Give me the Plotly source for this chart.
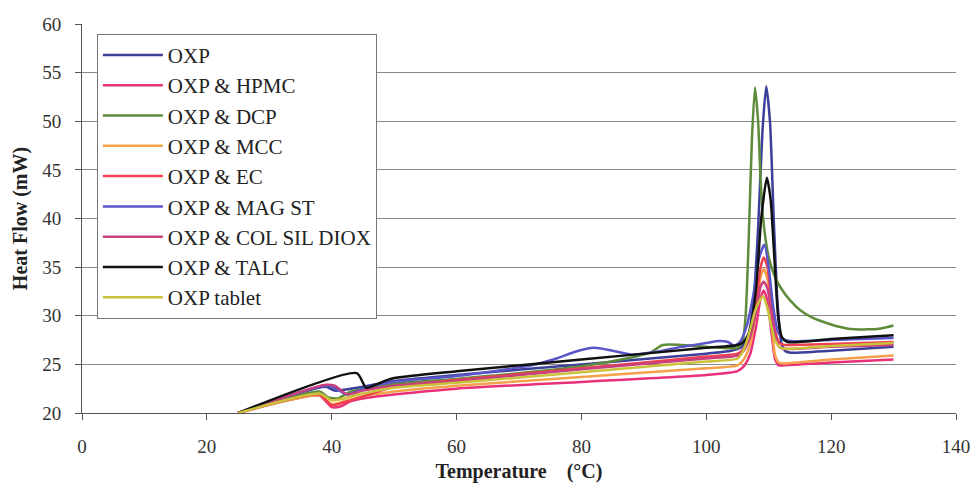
import plotly.graph_objects as go

names = ["OXP", "OXP & HPMC", "OXP & DCP", "OXP & MCC", "OXP & EC",
         "OXP & MAG ST", "OXP & COL SIL DIOX", "OXP & TALC", "OXP tablet"]
colors = ["#3b3f99", "#e8317a", "#5e8c3a", "#f5a04a", "#f0404f",
          "#5a55c8", "#c8407e", "#111111", "#c9c23a"]

oxp_t = [25, 39, 40.5, 42, 45, 50, 60, 80, 100, 104, 105.5, 106.5, 107.5, 108.3, 109, 109.6, 110.2, 110.8, 111.4, 112, 112.6, 113.5, 120, 130]
oxp_h = [20, 22.7, 22.3, 22.4, 22.7, 23.3, 23.9, 25.0, 26.1, 26.4, 26.7, 27.5, 31, 39, 49, 53.6, 50, 40, 31.5, 27.3, 26.4, 26.2, 26.4, 26.8]

hpmc_t = [25, 38, 40, 41.5, 43, 46, 50, 60, 80, 100, 105, 106, 107, 108, 108.7, 109.2, 109.8, 110.4, 111, 111.6, 112.5, 120, 130]
hpmc_h = [20, 21.8, 20.6, 20.7, 21.2, 21.6, 21.9, 22.5, 23.2, 23.9, 24.3, 24.8, 26, 29, 31.8, 32.6, 31.5, 28.5, 25.6, 24.9, 24.9, 25.2, 25.5]

dcp_t = [25, 38, 39.5, 41, 43, 50, 60, 80, 88, 91, 93, 96, 100, 105, 105.8, 106.3, 106.8, 107.3, 107.8, 108.3, 108.7, 109.1, 110, 111, 112, 113.4, 115, 117, 120, 122.5, 125.7, 128, 130]
dcp_h = [20, 22.2, 21.6, 21.5, 22.2, 23.0, 23.5, 24.8, 25.7, 26.2, 27.0, 27.0, 26.8, 26.7, 27.3, 30, 38, 48, 53.5, 50, 44, 40, 36, 34, 32.8, 31.6, 30.6, 29.8, 29.1, 28.7, 28.6, 28.7, 29.0]

mcc_t = [25, 38, 40, 42, 45, 50, 60, 80, 100, 105, 106, 107, 108, 108.7, 109.2, 109.8, 110.4, 111, 111.6, 112.5, 120, 130]
mcc_h = [20, 21.8, 20.9, 21.2, 21.7, 22.2, 22.8, 23.7, 24.6, 24.9, 25.5, 27, 30.5, 34, 34.8, 33.8, 30, 26, 25.2, 25.1, 25.5, 25.9]

ec_t = [25, 38, 40, 42, 45, 50, 60, 80, 100, 105, 106, 107, 108, 108.7, 109.2, 109.8, 110.4, 111, 111.7, 112.5, 113.5, 120, 130]
ec_h = [20, 21.9, 20.8, 21.1, 21.7, 22.7, 23.4, 24.6, 25.8, 26.1, 26.6, 28, 31.5, 35, 36.0, 35, 31.5, 28.5, 27.2, 27.0, 27.0, 27.1, 27.3]

mag_t = [25, 39.5, 42.5, 45, 50, 60, 72, 76, 79, 82, 85, 88, 92, 96, 100, 102, 103.5, 104.5, 105.5, 106.5, 107.5, 108.5, 109.3, 110, 110.7, 111.5, 112.3, 113.5, 120, 130]
mag_h = [20, 22.8, 21.9, 22.5, 23.2, 23.8, 24.9, 25.6, 26.3, 26.7, 26.4, 26.0, 26.3, 26.8, 27.2, 27.4, 27.3, 26.9, 27.4, 29, 32, 36, 37.3, 35, 31, 28.3, 27.6, 27.4, 27.5, 27.7]

col_t = [25, 39, 40.5, 42.5, 45, 50, 60, 80, 100, 105, 106, 107, 108, 108.7, 109.2, 109.8, 110.4, 111, 111.7, 112.5, 120, 130]
col_h = [20, 22.9, 22.8, 21.9, 22.3, 22.8, 23.3, 24.5, 25.6, 25.9, 26.4, 27.8, 30.5, 33, 33.5, 32.8, 30.5, 28, 26.8, 26.6, 26.8, 27.0]

talc_t = [25, 44, 45.5, 47, 48.5, 50, 60, 80, 100, 105, 106, 107, 108, 108.8, 109.7, 110.3, 110.9, 111.5, 112.1, 113, 120, 130]
talc_h = [20, 24.1, 22.6, 22.9, 23.3, 23.6, 24.3, 25.5, 26.7, 27.0, 27.3, 28.5, 33, 40, 44.2, 42, 36, 30, 27.8, 27.3, 27.6, 28.0]

tab_t = [25, 38, 40, 42, 45, 50, 60, 80, 100, 105, 106, 107, 107.8, 108.5, 109.1, 109.7, 110.4, 111, 111.7, 112.5, 120, 130]
tab_h = [20, 22.0, 21.3, 21.5, 22.0, 22.6, 23.1, 24.2, 25.3, 25.6, 26.5, 28.5, 30.5, 31.5, 32.0, 31, 29, 27.5, 26.8, 26.6, 26.9, 27.2]

series_t = [oxp_t, hpmc_t, dcp_t, mcc_t, ec_t, mag_t, col_t, talc_t, tab_t]
series_h = [oxp_h, hpmc_h, dcp_h, mcc_h, ec_h, mag_h, col_h, talc_h, tab_h]

x_ticks = [0, 20, 40, 60, 80, 100, 120, 140]
y_ticks = [20, 25, 30, 35, 40, 45, 50, 55, 60]

font_family = "Liberation Serif, Times New Roman, serif"

fig = go.Figure()
for n, c, t, h in zip(names, colors, series_t, series_h):
    fig.add_trace(go.Scatter(x=t, y=h, mode="lines", name=n, legendgroup=n,
                             line=dict(color=c, width=2.5, shape="spline", smoothing=0.6)))

fig.update_layout(
    width=973, height=493,
    margin=dict(l=82, r=17, t=24, b=80),
    paper_bgcolor="white", plot_bgcolor="white",
    font=dict(family=font_family, color="#333333", size=19),
    showlegend=True,
    legend=dict(x=0.017, y=0.975, xanchor="left", yanchor="top",
                bgcolor="white", bordercolor="#777777", borderwidth=1,
                font=dict(family=font_family, size=21, color="#222222"),
                tracegroupgap=1, itemwidth=60, traceorder="normal"),
    xaxis=dict(range=[0, 140], tickvals=x_ticks, showgrid=False, zeroline=False,
               automargin=False,
               showline=True, linecolor="#555555", linewidth=1,
               ticks="outside", ticklen=6, tickcolor="#555555",
               ticklabelstandoff=10,
               title=dict(text="<b>Temperature    (°C)</b>", font=dict(size=20, color="#222222"), standoff=8)),
    yaxis=dict(range=[20, 60], tickvals=y_ticks, showgrid=True, gridcolor="#8a8a8a", gridwidth=1,
               automargin=False,
               zeroline=False, showline=True, linecolor="#555555", linewidth=1,
               ticks="outside", ticklen=6, tickcolor="#555555",
               ticklabelstandoff=10,
               title=dict(text="<b>Heat Flow (mW)</b>", font=dict(size=20, color="#222222"), standoff=9)),
)

fig.write_html("out.html")
